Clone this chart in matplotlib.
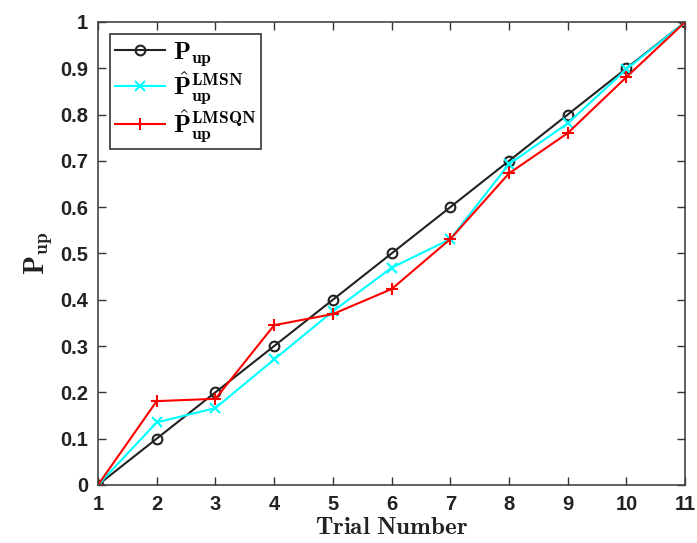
import matplotlib
matplotlib.use('Agg')
import matplotlib.pyplot as plt

trials = [1, 2, 3, 4, 5, 6, 7, 8, 9, 10, 11]
p_up = [0, 0.1, 0.2, 0.3, 0.4, 0.5, 0.6, 0.7, 0.8, 0.9, 1.0]
p_lmsn = [0, 0.135, 0.166, 0.271, 0.375, 0.469, 0.531, 0.693, 0.781, 0.898, 1.0]
p_lmsqn = [0, 0.181, 0.186, 0.345, 0.369, 0.423, 0.531, 0.673, 0.760, 0.881, 1.0]

plt.rcParams['mathtext.fontset'] = 'cm'
plt.rcParams['font.family'] = ['Liberation Sans', 'DejaVu Sans']

fig = plt.figure(figsize=(6.97, 5.43), dpi=100)
ax = fig.add_axes([0.1406, 0.107, 0.8424, 0.8525])

ax.plot(trials, p_up, color='#222222', marker='o', markersize=7, markerfacecolor='none',
        markeredgewidth=1.5, linewidth=1.5, label=r'$\mathbf{P_{up}}$')
ax.plot(trials, p_lmsn, color='#00ffff', marker='x', markersize=7, markeredgewidth=1.5,
        linewidth=1.5, label=r'$\hat{\mathbf{P}}_{\mathbf{up}}^{\mathbf{LMSN}}$')
ax.plot(trials, p_lmsqn, color='#ff0000', marker='+', markersize=9, markeredgewidth=1.5,
        linewidth=1.5, label=r'$\hat{\mathbf{P}}_{\mathbf{up}}^{\mathbf{LMSQN}}$')

ax.set_xlim(1, 11)
ax.set_ylim(0, 1)
ax.set_xticks(trials)
ax.set_yticks([0, 0.1, 0.2, 0.3, 0.4, 0.5, 0.6, 0.7, 0.8, 0.9, 1.0])
ax.set_yticklabels(['0', '0.1', '0.2', '0.3', '0.4', '0.5', '0.6', '0.7', '0.8', '0.9', '1'])
ax.tick_params(direction='in', top=True, right=True, length=6, width=1,
               labelsize=14.5, colors='#333333', labelcolor='#222222', pad=7)
for lbl in ax.get_xticklabels() + ax.get_yticklabels():
    lbl.set_fontweight('bold')
for sp in ax.spines.values():
    sp.set_color('#444444')
    sp.set_linewidth(1.2)

ax.set_xlabel(r'$\mathbf{Trial\ Number}$', fontsize=18, labelpad=1, color='#222222')
ax.set_ylabel(r'$\mathbf{P_{up}}$', fontsize=20, labelpad=4, color='#222222')

leg = ax.legend(loc='upper left', fontsize=18, fancybox=False, edgecolor='#333333',
                framealpha=1, handlelength=2.0, borderpad=0.2, labelspacing=0.05,
                handletextpad=0.3, borderaxespad=0.5)
leg.get_frame().set_linewidth(1.2)

fig.savefig('out.png', dpi=100)
